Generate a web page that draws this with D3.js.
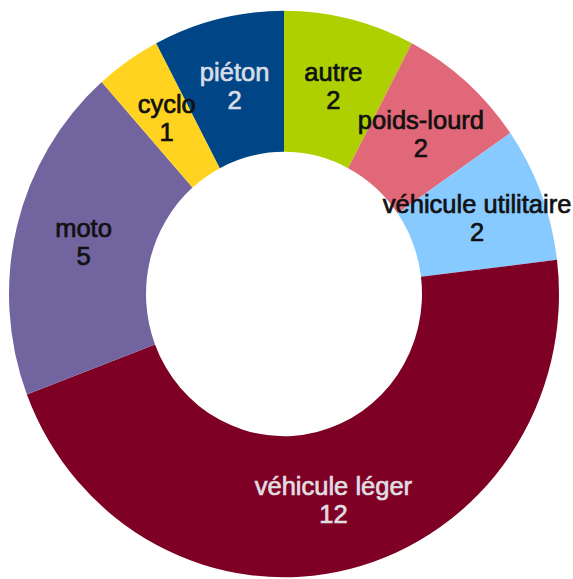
<!DOCTYPE html>
<html>
<head>
<meta charset="utf-8">
<script src="https://cdn.jsdelivr.net/npm/d3@7"></script>
<style>
  body { margin: 0; background: #fff; }
  text { font-family: "Liberation Sans", Arial, sans-serif; }
</style>
</head>
<body>
<div id="chart"></div>
<script>
// categories, clockwise from 12 o'clock
let categories = ["autre", "poids-lourd", "véhicule utilitaire", "véhicule léger", "moto", "cyclo", "piéton"]
let counts = [2, 2, 2, 12, 5, 1, 2]
let colors = ["#afd000", "#e16878", "#87caff", "#7e0024", "#72649f", "#ffd320", "#004586"]
let labelColors = ["#111", "#111", "#111", "#e0dde0", "#111", "#111", "#d8dde6"]

let width = 573, height = 579
let cx = 284, cy = 294
let outerR = 275, innerR = 138
let sy = 1.03   // picture is a bit taller than wide

let rows = categories.map((c, i) => ({name: c, value: counts[i], color: colors[i], label: labelColors[i]}))

let svg = d3.select("#chart")
  .append("svg")
  .attr("width", width)
  .attr("height", height)

let pie = d3.pie()
  .sort(null)
  .value(d => d.value)

let arc = d3.arc()
  .innerRadius(innerR)
  .outerRadius(outerR)

let arcs = pie(rows)

// the ring, squeezed a little vertically
svg.append("g")
  .attr("transform", `translate(${cx} ${cy}) scale(1 ${sy})`)
  .selectAll("path")
  .data(arcs)
  .enter()
  .append("path")
  .attr("d", arc)
  .style("fill", d => d.data.color)

// labels at the centroid of each slice
let labels = svg.append("g")
  .selectAll("text")
  .data(arcs)
  .enter()
  .append("text")
  .attr("text-anchor", "middle")
  .style("font-size", "25.5px")
  .style("fill", d => d.data.label)
  .style("stroke", d => d.data.label)
  .style("stroke-width", 0.7)
  .attr("transform", d => {
    let c = arc.centroid(d)
    return `translate(${cx + c[0]} ${cy + c[1] * sy})`
  })

labels.append("tspan")
  .attr("x", 0)
  .attr("y", -6)
  .text(d => d.data.name)

labels.append("tspan")
  .attr("x", 0)
  .attr("y", 22)
  .text(d => d.data.value)
</script>
</body>
</html>
